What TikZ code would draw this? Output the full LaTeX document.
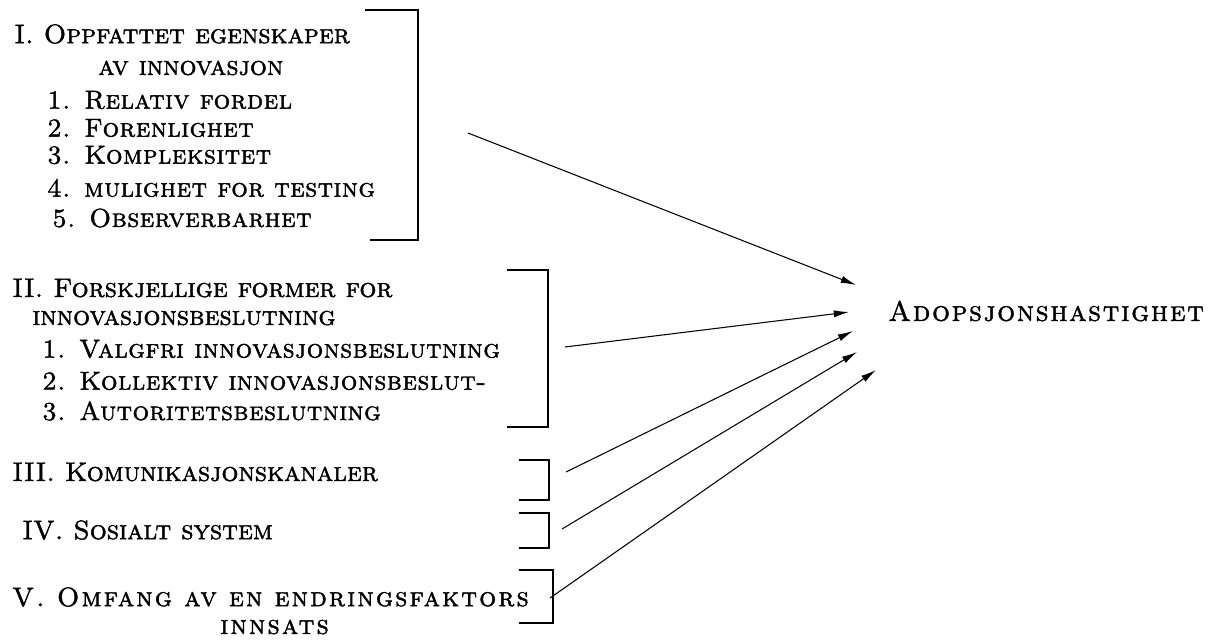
\documentclass[tikz,border=0pt]{standalone}
\usepackage{fontspec}
\newfontfamily\capsfont{Latin Modern Roman Caps}[FakeBold=1.6]
\usetikzlibrary{arrows.meta}

\begin{document}
\begin{tikzpicture}[x=0.025cm,y=-0.025cm,
          t/.style={anchor=west,inner sep=0pt,
                    font=\capsfont\fontsize{18.5}{21}\selectfont\addfontfeature{LetterSpace=2}},
          hd/.style={t,font=\capsfont\fontsize{19}{22}\selectfont},
          hdwide/.style={t,font=\capsfont\fontsize{19}{22}\selectfont\addfontfeature{LetterSpace=8}},
          res/.style={t,font=\capsfont\fontsize{20}{22}\selectfont\addfontfeature{LetterSpace=6}},
          br/.style={line width=0.9pt},
          ar/.style={-{Latex[length=3.8mm,width=1.8mm]},line width=0.75pt}]
        \useasboundingbox (0,0) rectangle (1216,641);
        % group I
        \node[hd] (h1)  at (14,34)  {I. Oppfattet egenskaper};
        \node[hd] (h1b) at (98,68) {av innovasjon};
        \node[t] (i1) at (47,100) {1. Relativ fordel};
        \node[t] (i2) at (47,128) {2. Forenlighet};
        \node[t] (i3) at (47,155) {3. Kompleksitet};
        \node[t] (i4) at (47,188) {4. mulighet for testing};
        \node[t] (i5) at (52,218) {5. Observerbarhet};
        \draw[br] (365,10) -- (418,10) -- (418,240) -- (370,240);
        % group II
        \node[hd] (h2)  at (12,288) {II. Forskjellige former for};
        \node[hd] (h2b) at (32,318) {innovasjonsbeslutning};
        \node[t] (j1) at (42,349) {1. Valgfri innovasjonsbeslutning};
        \node[t] (j2) at (42,381) {2. Kollektiv innovasjonsbeslut-};
        \node[t] (j3) at (42,411) {3. Autoritetsbeslutning};
        \draw[br] (507,270) -- (548,270) -- (548,427) -- (507,427);
        % groups III-V
        \node[hd] (h3) at (12,472) {III. Komunikasjonskanaler};
        \draw[br] (519,460) -- (549,460) -- (549,500) -- (519,500);
        \node[hd] (h4) at (22,530) {IV. Sosialt system};
        \draw[br] (519,513) -- (549,513) -- (549,548) -- (519,548);
        \node[hdwide] (h5) at (12,597) {V. Omfang av en endringsfaktors};
        \node[hdwide] (h5b) at (220,627) {innsats};
        \draw[br] (519,570) -- (553,570) -- (553,623) -- (519,623);
        % dependent variable
        \node[res] (rate) at (888,311) {Adopsjonshastighet};
        \coordinate (s1) at (468,133);
        \coordinate (s2) at (565,347);
        \coordinate (s3) at (566,472);
        \coordinate (s4) at (562,529);
        \coordinate (s5) at (550,598);
        \coordinate (e1) at (856,285);
        \coordinate (e2) at (849,312);
        \coordinate (e3) at (853,331);
        \coordinate (e4) at (857,352);
        \coordinate (e5) at (876,370);
        \foreach \i in {1,...,5}
          \draw[ar] (s\i) -- (e\i);
\end{tikzpicture}
\end{document}
